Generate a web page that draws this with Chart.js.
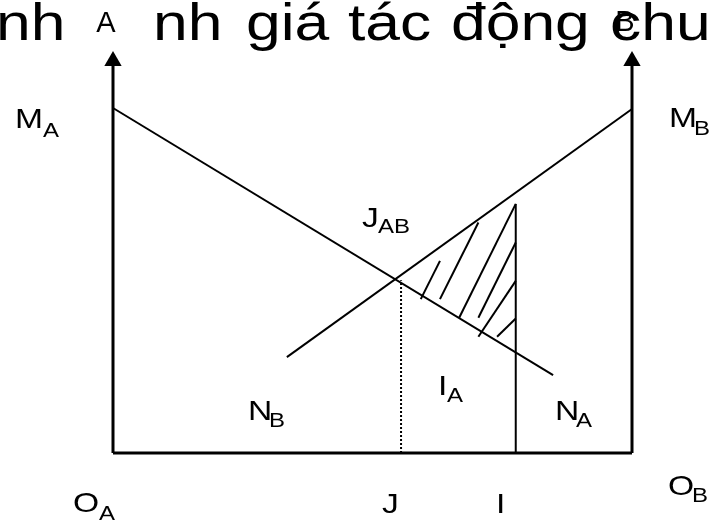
<!DOCTYPE html>
<html>
<head>
<meta charset="utf-8">
<script src="https://cdn.jsdelivr.net/npm/chart.js@4.4.1/dist/chart.umd.min.js"></script>
<style>
  html, body { margin: 0; padding: 0; background: #ffffff; }
  #c { display: block; }
</style>
</head>
<body>
<canvas id="c" width="712" height="521"></canvas>
<script>
// ---- data (diagram units: O_A = 0, O_B = 10 on x; 0 = base line on y) ----
const axisLeftX = [0, 0];
const axisRightX = [10, 10];
const axisY = [0, 11.36];
const baseX = [0, 10];
const baseY = [0, 0];
const lineAX = [0, 8.48];      // M_A -> N_A
const lineAY = [10, 2.26];
const lineBX = [3.35, 10];     // N_B -> M_B
const lineBY = [2.78, 9.97];
const jX = [5.55, 5.55];       // dotted J line
const jY = [0, 5.01];
const iX = [7.76, 7.76];       // solid I line
const iY = [0, 7.22];
const hatchX1 = [5.93, 6.30, 6.67, 7.04, 7.04, 7.40];
const hatchY1 = [4.46, 4.46, 3.92, 3.92, 3.37, 3.37];
const hatchX2 = [6.30, 7.04, 7.76, 7.76, 7.76, 7.76];
const hatchY2 = [5.57, 6.68, 7.22, 6.10, 4.99, 3.90];

const titleWords = ["nh", "nh", "giá", "tác", "động", "chu"];

function pts(xs, ys) { return xs.map((x, i) => ({ x: x, y: ys[i] })); }

function seg(xs, ys, width, dash) {
  return {
    data: pts(xs, ys),
    showLine: true,
    borderColor: '#000',
    borderWidth: width,
    borderDash: dash || [],
    pointRadius: 0,
    tension: 0,
    clip: false,
    borderCapStyle: 'butt'
  };
}

function axis(xs) {
  return {
    data: pts(xs, axisY),
    showLine: true,
    borderColor: '#000',
    borderWidth: 3,
    backgroundColor: '#000',
    pointStyle: 'triangle',
    pointRadius: [0, 10],
    pointBorderWidth: 0,
    pointBackgroundColor: '#000',
    tension: 0,
    clip: false
  };
}

const datasets = [
  axis(axisLeftX),
  axis(axisRightX),
  seg(baseX, baseY, 3),
  seg(lineAX, lineAY, 2),
  seg(lineBX, lineBY, 2),
  seg(jX, jY, 2, [2, 2]),
  seg(iX, iY, 2)
];
for (let k = 0; k < hatchX1.length; k++) {
  datasets.push(seg([hatchX1[k], hatchX2[k]], [hatchY1[k], hatchY2[k]], 2));
}

const FONT = '"Liberation Sans", Arial, Helvetica, sans-serif';
const STRETCH = 1.2;

// label layout: [main, sub, x, baseline, subX, subBaseline]
const labels = [
  ["M", "A", 15, 128, 43, 137],
  ["M", "B", 669, 127, 694, 135],
  ["J", "AB", 362, 227, 378, 233],
  ["N", "B", 248, 420, 269, 427],
  ["I", "A", 438, 395, 447, 402],
  ["N", "A", 555, 420, 576, 427],
  ["O", "A", 73, 512, 99, 520],
  ["O", "B", 668, 495, 692, 502],
  ["J", "", 382, 513, 0, 0],
  ["I", "", 496, 513, 0, 0]
];
const titleX = [-4, 153, 246, 348, 451, 610];

function stretched(ctx, text, x, y) {
  ctx.save();
  ctx.scale(STRETCH, 1);
  ctx.fillText(text, x / STRETCH, y);
  ctx.restore();
}

const textPlugin = {
  id: 'texts',
  afterDraw(chart) {
    const ctx = chart.ctx;
    ctx.save();
    ctx.fillStyle = '#000';
    ctx.textBaseline = 'alphabetic';
    ctx.textAlign = 'left';
    // title (horizontally stretched)
    ctx.font = '52px ' + FONT;
    titleWords.forEach((w, i) => stretched(ctx, w, titleX[i], 40));
    // axis names
    ctx.font = '29px ' + FONT;
    ctx.textAlign = 'center';
    ctx.fillText('A', 106, 32);
    ctx.fillText('B', 625, 31);
    ctx.textAlign = 'left';
    labels.forEach(l => {
      ctx.font = '28px ' + FONT;
      stretched(ctx, l[0], l[2], l[3]);
      if (l[1]) {
        ctx.font = '20px ' + FONT;
        stretched(ctx, l[1], l[4], l[5]);
      }
    });
    ctx.restore();
  }
};

new Chart(document.getElementById('c'), {
  type: 'scatter',
  data: { datasets: datasets },
  options: {
    responsive: false,
    animation: false,
    layout: { padding: { left: 113, right: 80, top: 51, bottom: 68 } },
    plugins: { legend: { display: false }, tooltip: { enabled: false } },
    scales: {
      x: { type: 'linear', display: false, min: 0, max: 10 },
      y: { type: 'linear', display: false, min: 0, max: 11.652 }
    }
  },
  plugins: [textPlugin]
});
</script>
</body>
</html>
